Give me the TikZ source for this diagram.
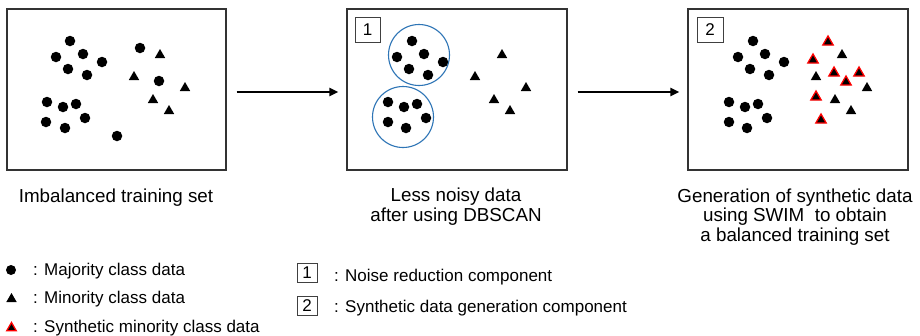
\documentclass[tikz,border=0pt]{standalone}
\usepackage{fontspec}
\setmainfont{Liberation Sans}
\usetikzlibrary{shapes.geometric,arrows.meta}
\definecolor{circblue}{RGB}{46,117,182}
\begin{document}
\begin{tikzpicture}[x=1pt,y=-1pt,
  dot/.style={circle,fill=black,inner sep=0pt,minimum size=10.5},
  tri/.style={regular polygon,regular polygon sides=3,fill=black,inner sep=0pt,minimum size=12},
  stri/.style={tri,draw=red,line width=1.3},
  panel/.style={draw=black!80,line width=1.2,inner sep=0pt},
  numbox/.style={draw=black!75,line width=0.9,inner sep=0pt,font=\fontsize{17}{17}\selectfont},
  cluster/.style={draw=circblue,line width=1.1,circle,inner sep=0pt,minimum size=61},
  flow/.style={line width=2,-{Triangle[length=9pt,width=8pt]}},
  caption/.style={align=center,font=\fontsize{18.8}{19.5}\selectfont,inner sep=0pt,anchor=base},
  legend/.style={font=\fontsize{17}{17}\selectfont,inner sep=0pt,anchor=base west}]
\useasboundingbox[fill=white] (0,0) rectangle (920,335);

% panels
\node[panel,minimum width=219,minimum height=161] (p1) at (116.5,89.5) {};
\node[panel,minimum width=220,minimum height=161] (p2) at (457,89.5) {};
\node[panel,minimum width=220,minimum height=161] (p3) at (798,89.5) {};

% panel 1
\foreach \x/\y [count=\i] in {70/41,56/57,83/54,102/62,68/69,87/75,140/48,159/81,47/102,63/107,76/104,85/118,46/122,65/128,117/136}
  \node[dot] (a\i) at (\x,\y) {};
\foreach \x/\y [count=\i] in {160/55,134/77,185/88,153/100,169/111}
  \node[tri] (at\i) at (\x,\y) {};

% panel 2
\node[numbox,minimum width=25,minimum height=25] (n1) at (367.5,29.5) {1};
\node[cluster] (c1) at (419,55) {};
\node[cluster] (c2) at (403,117) {};
\foreach \x/\y [count=\i] in {412/41,397/57,424/54,443/62,409/69,428/75,388/102,404/107,417/104,426/118,388/122,406/128}
  \node[dot] (b\i) at (\x,\y) {};
\foreach \x/\y [count=\i] in {502/55,475/77,526/88,494/100,510/111}
  \node[tri] (bt\i) at (\x,\y) {};

% panel 3
\node[numbox,minimum width=26,minimum height=25] (n2) at (710,29.5) {2};
\foreach \x/\y [count=\i] in {753/41,738/57,765/54,784/62,750/69,769/75,729/102,745/107,758/104,767/118,729/122,747/128}
  \node[dot] (d\i) at (\x,\y) {};
\foreach \x/\y [count=\i] in {842/55,816/77,867/88,835/100,851/111}
  \node[tri] (dt\i) at (\x,\y) {};
\foreach \x/\y [count=\i] in {828/42,813/60,834/73,859/73,846/82,816/97,821/120}
  \node[stri] (ds\i) at (\x,\y) {};

% arrows
\draw[flow] ([xshift=10pt,yshift=-2.5pt]p1.east) -- ([xshift=-8pt,yshift=-2.5pt]p2.west);
\draw[flow] ([xshift=10pt,yshift=-2.5pt]p2.east) -- ([xshift=-8pt,yshift=-2.5pt]p3.west);

% captions (base anchor = baseline of last line)
\node[caption] (cap1) at (116,202) {Imbalanced training set};
\node[caption] (cap2) at (456,221) {Less noisy data\\after using DBSCAN};
\node[caption] (cap3) at (795,241) {Generation of synthetic data\\using SWIM\ \ to obtain\\a balanced training set};

% legend 1
\node[dot,minimum size=10] (l1) at (11,270) {};
\node[tri,minimum size=12] (l2) at (11.5,299) {};
\node[stri,minimum size=11] (l3) at (11.5,328) {};
\node[legend] (lt1) at (33,275) {: Majority class data};
\node[legend] (lt2) at (33,303) {: Minority class data};
\node[legend] (lt3) at (33,332) {: Synthetic minority class data};

% legend 2
\node[numbox,minimum width=20,minimum height=19] (lb1) at (307,272.5) {1};
\node[numbox,minimum width=20,minimum height=19] (lb2) at (307,306) {2};
\node[legend] (lbt1) at (334,281) {: Noise reduction component};
\node[legend] (lbt2) at (334,312) {: Synthetic data generation component};
\end{tikzpicture}
\end{document}
